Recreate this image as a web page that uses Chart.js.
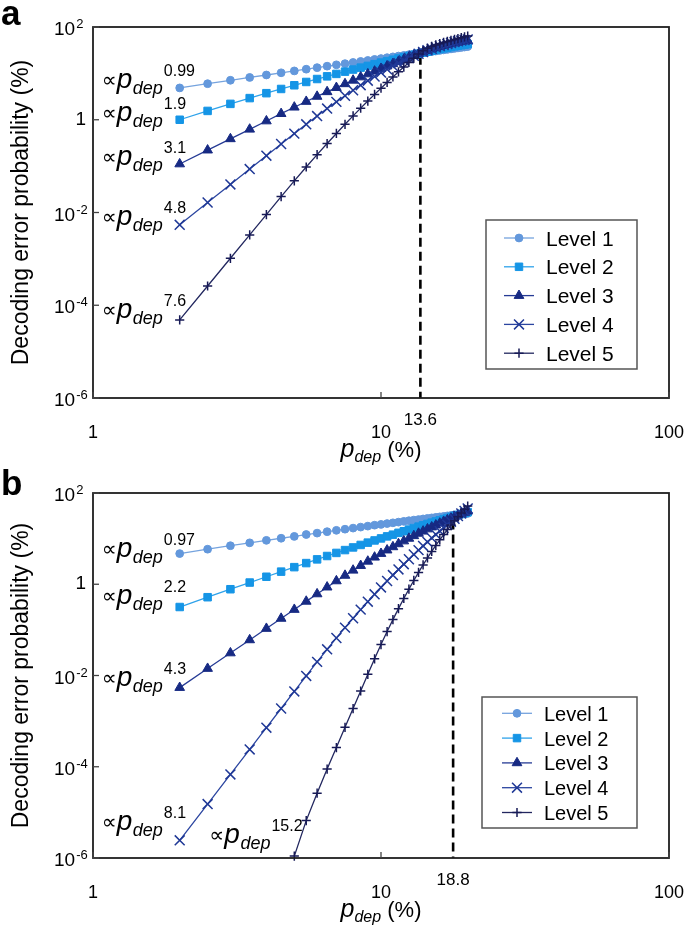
<!DOCTYPE html>
<html><head><meta charset="utf-8">
<script src="https://cdn.jsdelivr.net/npm/chart.js@4.4.1/dist/chart.umd.min.js"></script>
<style>
html,body{margin:0;padding:0;background:#fff;}
#wrap{position:relative;width:688px;height:932px;overflow:hidden;background:#fff;}
canvas{position:absolute;left:0;}
</style></head><body>
<div id="wrap">
<canvas id="ca" width="688" height="466" style="top:0px"></canvas>
<canvas id="cb" width="688" height="466" style="top:466px"></canvas>
</div>
<script>
// ---------------- DATA ----------------
const pdep = [2,2.5,3,3.5,4,4.5,5,5.5,6,6.5,7,7.5,8,8.5,9,9.5,10,10.5,11,11.5,12,12.5,13,13.5,14,14.5,15,15.5,16,16.5,17,17.5,18,18.5,19,19.5,20];
const levelNames = ['Level 1','Level 2','Level 3','Level 4','Level 5'];

// panel a
const level1A = [4.86,5.99,7.10,8.17,9.23,10.3,11.3,12.3,13.3,14.3,15.3,16.2,17.2,18.1,19.0,20.0,20.9,21.8,22.7,23.6,24.4,25.3,26.2,27.0,27.9,28.8,29.6,30.4,31.3,32.1,32.9,33.7,34.6,35.4,36.2,37.0,37.8];
const level2A = [1.00,1.55,2.20,2.93,3.74,4.61,5.54,6.53,7.56,8.63,9.74,10.9,12.1,13.3,14.5,15.8,17.1,18.4,19.7,21.0,22.4,23.7,25.1,26.5,27.9,29.3,30.6,32.0,33.3,34.6,35.8,37.0,38.2,39.4,40.5,41.6,42.7];
const level3A = [0.111,0.221,0.387,0.622,0.938,1.35,1.86,2.47,3.18,4.00,4.92,5.94,7.08,8.33,9.68,11.1,12.7,14.4,16.1,18.0,19.9,22.0,24.1,26.4,28.7,30.9,33.2,35.3,37.4,39.5,41.4,43.3,45.0,46.7,48.2,49.6,50.9];
const level4A = [0.00542,0.0164,0.0403,0.0865,0.168,0.300,0.502,0.796,1.20,1.74,2.43,3.29,4.33,5.56,6.97,8.58,10.4,12.3,14.4,16.6,19.0,21.4,23.9,26.4,28.9,31.5,33.9,36.4,38.7,41.0,43.2,45.3,47.3,49.1,50.9,52.5,54.0];
const level5A = [4.82e-5,2.60e-4,1.03e-3,3.29e-3,9.03e-3,0.0220,0.0481,0.0958,0.177,0.307,0.506,0.797,1.21,1.78,2.53,3.52,4.79,6.39,8.37,10.8,13.7,17.2,21.3,26.1,30.9,34.8,38.2,41.1,43.8,46.4,48.9,51.4,53.9,56.4,58.9,61.5,64.0];
const exponentsA = ['0.99','1.9','3.1','4.8','7.6'];
const thresholdA = 13.7, thresholdTopA = 24, thresholdLabelA = '13.6';

// panel b
const level1B = [4.70,5.86,6.99,8.09,9.17,10.2,11.2,12.3,13.2,14.2,15.2,16.1,17.0,17.9,18.8,19.7,20.5,21.4,22.2,23.0,23.9,24.7,25.5,26.2,27.0,27.8,28.5,29.3,30.0,30.7,31.5,32.2,32.9,33.6,34.3,35.0,35.7];
const level2B = [0.317,0.520,0.778,1.09,1.46,1.89,2.37,2.91,3.51,4.16,4.86,5.61,6.41,7.27,8.17,9.12,10.1,11.2,12.2,13.4,14.5,15.8,17.0,18.3,19.6,21.0,22.4,23.8,25.3,26.8,28.3,29.9,31.5,33.1,34.7,36.4,38.1];
const level3B = [0.00543,0.0142,0.0311,0.0602,0.107,0.178,0.279,0.421,0.612,0.863,1.18,1.56,2.02,2.56,3.18,3.90,4.70,5.59,6.58,7.66,8.84,10.1,11.5,13.0,14.5,16.2,17.9,19.7,21.7,23.7,25.7,27.9,30.1,32.5,34.8,37.3,39.8];
const level4B = [2.44e-6,1.52e-5,6.79e-5,2.40e-4,7.18e-4,1.89e-3,4.47e-3,9.78e-3,0.0199,0.0375,0.0665,0.112,0.180,0.278,0.415,0.602,0.851,1.18,1.59,2.11,2.75,3.53,4.48,5.60,6.92,8.46,10.3,12.3,14.6,17.3,20.2,23.5,27.2,31.3,35.7,40.6,46.0];
const level5B = [null,null,null,null,null,null,1.10e-6,6.6e-6,2.63e-5,8.9e-5,2.63e-4,7.33e-4,1.88e-3,4.57e-3,0.0106,0.0232,0.0476,0.0918,0.168,0.292,0.487,0.781,1.21,1.82,2.65,3.76,5.23,7.09,9.42,12.3,15.8,19.9,24.7,30.3,36.6,43.8,51.8];
const exponentsB = ['0.97','2.2','4.3','8.1','15.2'];
const thresholdB = 17.8, thresholdTopB = 25, thresholdLabelB = '18.8';

const xTickValues = [1, 10, 100];
const xTickLabels = ['1', '10', '100'];
const yTickValues = [100, 1, 0.01, 1e-4, 1e-6];
const yTickLabels = [['10','2'], ['1',''], ['10','-2'], ['10','-4'], ['10','-6']];
const yTitle = 'Decoding error probability (%)';

// ---------------- STYLE ----------------
const FONT = '"Liberation Sans", Arial, Helvetica, sans-serif';
const styles = [
  {color:'#6398dc', line:'#75a3de', point:'circle',   radius:3.9, bw:1},
  {color:'#1595e6', line:'#2ea2ea', point:'rect',     radius:5.3, bw:1},
  {color:'#172a83', line:'#263b95', point:'triangle', radius:5.6, bw:1},
  {color:'#1f3896', line:'#2b45a0', point:'crossRot', radius:7.0, bw:1.5},
  {color:'#171a56', line:'#22275f', point:'cross',    radius:4.6, bw:1.5}
];

const decor = {
  id: 'decor',
  afterDraw(chart, args, o) {
    const ctx = chart.ctx, ca = chart.chartArea, xs = chart.scales.x, ys = chart.scales.y;
    ctx.save();
    // frame
    ctx.strokeStyle = '#1e1e1e'; ctx.lineWidth = 1.8;
    ctx.strokeRect(ca.left, ca.top, ca.right - ca.left, ca.bottom - ca.top);
    // inward ticks
    ctx.lineWidth = 1.3; ctx.strokeStyle = '#444';
    xTickValues.forEach(v => { const x = xs.getPixelForValue(v); ctx.beginPath(); ctx.moveTo(x, ca.bottom); ctx.lineTo(x, ca.bottom - 6); ctx.stroke(); });
    yTickValues.forEach(v => { const y = ys.getPixelForValue(v); ctx.beginPath(); ctx.moveTo(ca.left, y); ctx.lineTo(ca.left + 6, y); ctx.stroke(); });
    ctx.fillStyle = '#000';
    ctx.textBaseline = 'alphabetic';
    // y tick labels
    yTickValues.forEach((v, i) => {
      const y = ys.getPixelForValue(v);
      const [b, e] = yTickLabels[i];
      if (e) {
        ctx.font = `19px ${FONT}`; ctx.textAlign = 'left';
        ctx.fillText(b, 54, y + 8);
        const w = ctx.measureText(b).width;
        ctx.font = `13px ${FONT}`;
        ctx.fillText(e, 54 + w + 1, y + 1);
      } else {
        ctx.font = `19px ${FONT}`; ctx.textAlign = 'right';
        ctx.fillText(b, 86, y + 5);
      }
    });
    // x tick labels
    ctx.font = `18px ${FONT}`; ctx.textAlign = 'center';
    xTickValues.forEach((v, i) => ctx.fillText(xTickLabels[i], xs.getPixelForValue(v), ca.bottom + 40));
    ctx.font = `17px ${FONT}`;
    ctx.fillText(o.thrLabel, xs.getPixelForValue(o.thr), ca.bottom + 27);
    // x title
    {
      const cx = (ca.left + ca.right) / 2, base = ca.bottom + 59;
      ctx.font = `italic 25px ${FONT}`; const wp = ctx.measureText('p').width;
      ctx.font = `italic 16px ${FONT}`; const wd = ctx.measureText('dep').width;
      ctx.font = `22px ${FONT}`; const wr = ctx.measureText(' (%)').width;
      let x = cx - (wp + wd + wr) / 2;
      ctx.textAlign = 'left';
      ctx.font = `italic 25px ${FONT}`; ctx.fillText('p', x, base); x += wp;
      ctx.font = `italic 16px ${FONT}`; ctx.fillText('dep', x, base + 5); x += wd;
      ctx.font = `22px ${FONT}`; ctx.fillText(' (%)', x, base);
    }
    // y title
    ctx.save();
    ctx.translate(28, (ca.top + ca.bottom) / 2);
    ctx.rotate(-Math.PI / 2);
    ctx.font = `23px ${FONT}`; ctx.textAlign = 'center';
    ctx.fillText(yTitle, 0, 0);
    ctx.restore();
    // panel letter
    ctx.font = `bold 35px ${FONT}`; ctx.textAlign = 'left';
    ctx.fillText(o.letter, 1, o.letterBase);
    // power-law annotations
    o.ann.forEach((a, i) => {
      const meta = chart.getDatasetMeta(i);
      const el = meta.data.find(p => p && !p.skip && isFinite(p.y));
      const x0 = el.x + a.dx, base = el.y + a.dy;
      ctx.textAlign = 'left';
      ctx.font = `21px "DejaVu Sans", sans-serif`;
      ctx.fillText('\u221D', x0, base - 1);
      let x = x0 + 15;
      ctx.font = `italic 28px ${FONT}`; ctx.fillText('p', x, base); x += ctx.measureText('p').width + 0.5;
      ctx.font = `italic 18px ${FONT}`; ctx.fillText('dep', x, base + 6); x += ctx.measureText('dep').width + 1;
      ctx.font = `16px ${FONT}`; ctx.fillText(o.exps[i], x, base - 12);
    });
    // legend
    const L = o.leg;
    ctx.fillStyle = '#fff'; ctx.fillRect(L.x, L.y, L.w, L.h);
    ctx.strokeStyle = '#555'; ctx.lineWidth = 1.5; ctx.strokeRect(L.x, L.y, L.w, L.h);
    levelNames.forEach((name, i) => {
      const y = L.y0 + i * L.step, s = styles[i];
      ctx.strokeStyle = s.line; ctx.lineWidth = 1.3;
      ctx.beginPath(); ctx.moveTo(L.lx0, y); ctx.lineTo(L.lx1, y); ctx.stroke();
      ctx.fillStyle = s.color; ctx.strokeStyle = s.color; ctx.lineWidth = s.bw;
      Chart.helpers.drawPoint(ctx, {pointStyle: s.point, radius: s.radius, borderWidth: s.bw, rotation: 0}, (L.lx0 + L.lx1) / 2, y);
      ctx.fillStyle = '#000'; ctx.font = `${L.font}px ${FONT}`; ctx.textAlign = 'left';
      ctx.fillText(name, L.tx, y + 7.5);
    });
    ctx.restore();
  }
};

function makeChart(id, series, cfg) {
  const datasets = series.map((arr, i) => ({
    label: levelNames[i],
    data: pdep.map((p, j) => ({x: p, y: arr[j]})),
    borderColor: styles[i].line,
    backgroundColor: styles[i].color,
    pointBackgroundColor: styles[i].color,
    pointBorderColor: styles[i].color,
    pointStyle: styles[i].point,
    pointRadius: styles[i].radius,
    pointBorderWidth: styles[i].bw,
    borderWidth: 1.3,
    tension: 0, fill: false, clip: false, spanGaps: false,
    order: 5 - i
  }));
  datasets.push({
    label: 'threshold',
    data: [{x: cfg.thr, y: cfg.thrTop}, {x: cfg.thr, y: 1e-6}],
    borderColor: '#000', borderWidth: 2.6, borderDash: [9, 5],
    pointRadius: 0, fill: false, clip: false, order: 10
  });
  return new Chart(document.getElementById(id), {
    type: 'line',
    data: {datasets},
    options: {
      responsive: false, animation: false, devicePixelRatio: 1,
      layout: {padding: {left: 0, right: 19, top: 27, bottom: 0}},
      plugins: {legend: {display: false}, tooltip: {enabled: false}, decor: cfg},
      scales: {
        x: {type: 'logarithmic', min: 1, max: 100, grid: {display: false}, border: {display: false},
            ticks: {display: false}, afterFit: s => { s.height = cfg.xh; }},
        y: {type: 'logarithmic', min: 1e-6, max: 100, grid: {display: false}, border: {display: false},
            ticks: {display: false}, afterFit: s => { s.width = 93; }}
      }
    },
    plugins: [decor]
  });
}

makeChart('ca', [level1A, level2A, level3A, level4A, level5A], {
  thr: thresholdA, thrTop: thresholdTopA, thrLabel: thresholdLabelA, exps: exponentsA,
  letter: 'a', letterBase: 25, xh: 68,
  ann: [{dx:-78,dy:0},{dx:-78,dy:1},{dx:-78,dy:1},{dx:-78,dy:0},{dx:-78,dy:-2}],
  leg: {x:486, y:220, w:151, h:149, lx0:504, lx1:534, tx:546, y0:238, step:28.8, font:21}
});
makeChart('cb', [level1B, level2B, level3B, level4B, level5B], {
  thr: thresholdB, thrTop: thresholdTopB, thrLabel: thresholdLabelB, exps: exponentsB,
  letter: 'b', letterBase: 29, xh: 74,
  ann: [{dx:-78,dy:3},{dx:-78,dy:-3},{dx:-78,dy:-2},{dx:-78,dy:-10},{dx:-85,dy:-13}],
  leg: {x:482, y:231, w:155, h:131, lx0:502, lx1:532, tx:544, y0:247.3, step:24.8, font:20}
});
</script>
</body></html>
